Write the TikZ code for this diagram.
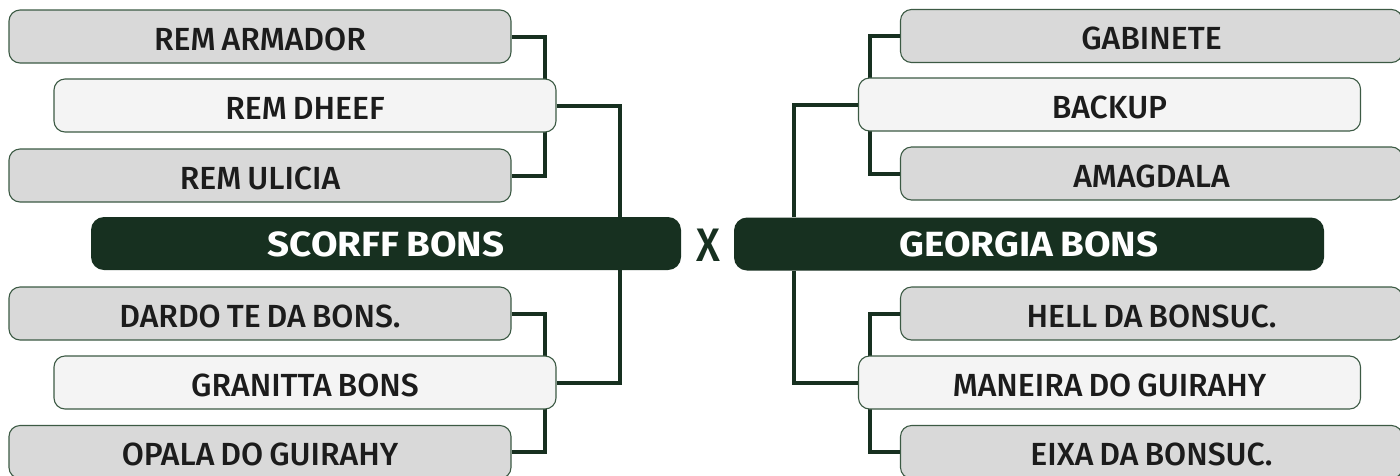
\documentclass[tikz,border=0pt]{standalone}
\usepackage{fontspec}
\setmainfont{Fira Sans}[UprightFont=* Medium, BoldFont=* Bold]
\newfontfamily\itemfont{Fira Sans}[UprightFont=* Medium, WordSpace=0.75]
\newfontfamily\teamfont{Fira Sans}[UprightFont=* Bold, WordSpace=0.8, FakeStretch=1.1]
\newfontfamily\vsfont{Fira Sans}[UprightFont=* Medium, FakeStretch=0.9]
\definecolor{dkgreen}{HTML}{173020}
\definecolor{edgegreen}{HTML}{3C5A44}
\definecolor{boxgray}{HTML}{D9D9D9}
\definecolor{boxlight}{HTML}{F4F4F4}
\definecolor{txt}{HTML}{1C1C1C}
\tikzset{
  base/.style={rounded corners=11pt, draw=edgegreen, line width=1.1pt, inner sep=0pt,
    minimum height=53pt, text height=27pt, text depth=0pt, text=txt,
    font=\itemfont\fontsize{32}{32}\selectfont},
  graybox/.style={base, fill=boxgray, minimum width=502pt},
  lightbox/.style={base, fill=boxlight, minimum width=502pt},
  teambox/.style={rounded corners=13pt, fill=dkgreen, draw=none, inner sep=0pt, minimum width=590pt,
    minimum height=53pt, text height=25pt, text depth=0pt, text=white,
    font=\teamfont\fontsize{35}{35}\selectfont},
  conn/.style={draw=dkgreen, line width=4pt}
}
\begin{document}
\begin{tikzpicture}[x=1pt,y=-1pt]
\useasboundingbox (0,0) rectangle (1400,475);
\begin{scope}
\clip (0,0) rectangle (1400,475);
\coordinate (lbr) at (545,0);
\coordinate (lmain) at (620,0);
\coordinate (rbr) at (870,0);
\coordinate (rmain) at (794,0);
\node[graybox] (a1) at (260,36.5) {REM ARMADOR};
\node[graybox] (a3) at (260,175.5) {REM ULICIA};
\node[graybox] (b1) at (260,313.5) {DARDO TE DA BONS.};
\node[graybox] (b3) at (260,452) {OPALA DO GUIRAHY};
\node[teambox] (L) at (386,243.5) {SCORFF BONS};
\node[graybox] (c1) at (1151.5,36) {GABINETE};
\node[graybox] (c3) at (1151.5,173.5) {AMAGDALA};
\node[graybox] (d1) at (1151.5,313.5) {HELL DA BONSUC.};
\node[graybox] (d3) at (1151.5,452) {EIXA DA BONSUC.};
\node[teambox] (R) at (1029,244) {GEORGIA BONS};
\draw[conn] (a1.east) -| (lbr |- a3.east) -- (a3.east);
\draw[conn] (b1.east) -| (lbr |- b3.east) -- (b3.east);
\draw[conn] (c1.west) -| (rbr |- c3.west) -- (c3.west);
\draw[conn] (d1.west) -| (rbr |- d3.west) -- (d3.west);
\node[lightbox] (a2) at (305,105.5) {REM DHEEF};
\node[lightbox] (b2) at (305,382.5) {GRANITTA BONS};
\node[lightbox] (c2) at (1109.5,104.5) {BACKUP};
\node[lightbox] (d2) at (1109.5,382.5) {MANEIRA DO GUIRAHY};
\draw[conn] (a2.east) -| (lmain |- L.north);
\draw[conn] (lmain |- L.south) |- (b2.east);
\draw[conn] (c2.west) -| (rmain |- R.north);
\draw[conn] (rmain |- R.south) |- (d2.west);
\node[text=dkgreen, font=\vsfont\fontsize{47}{47}\selectfont, inner sep=0pt] (vs) at (708,245) {X};
\end{scope}
\end{tikzpicture}
\end{document}
